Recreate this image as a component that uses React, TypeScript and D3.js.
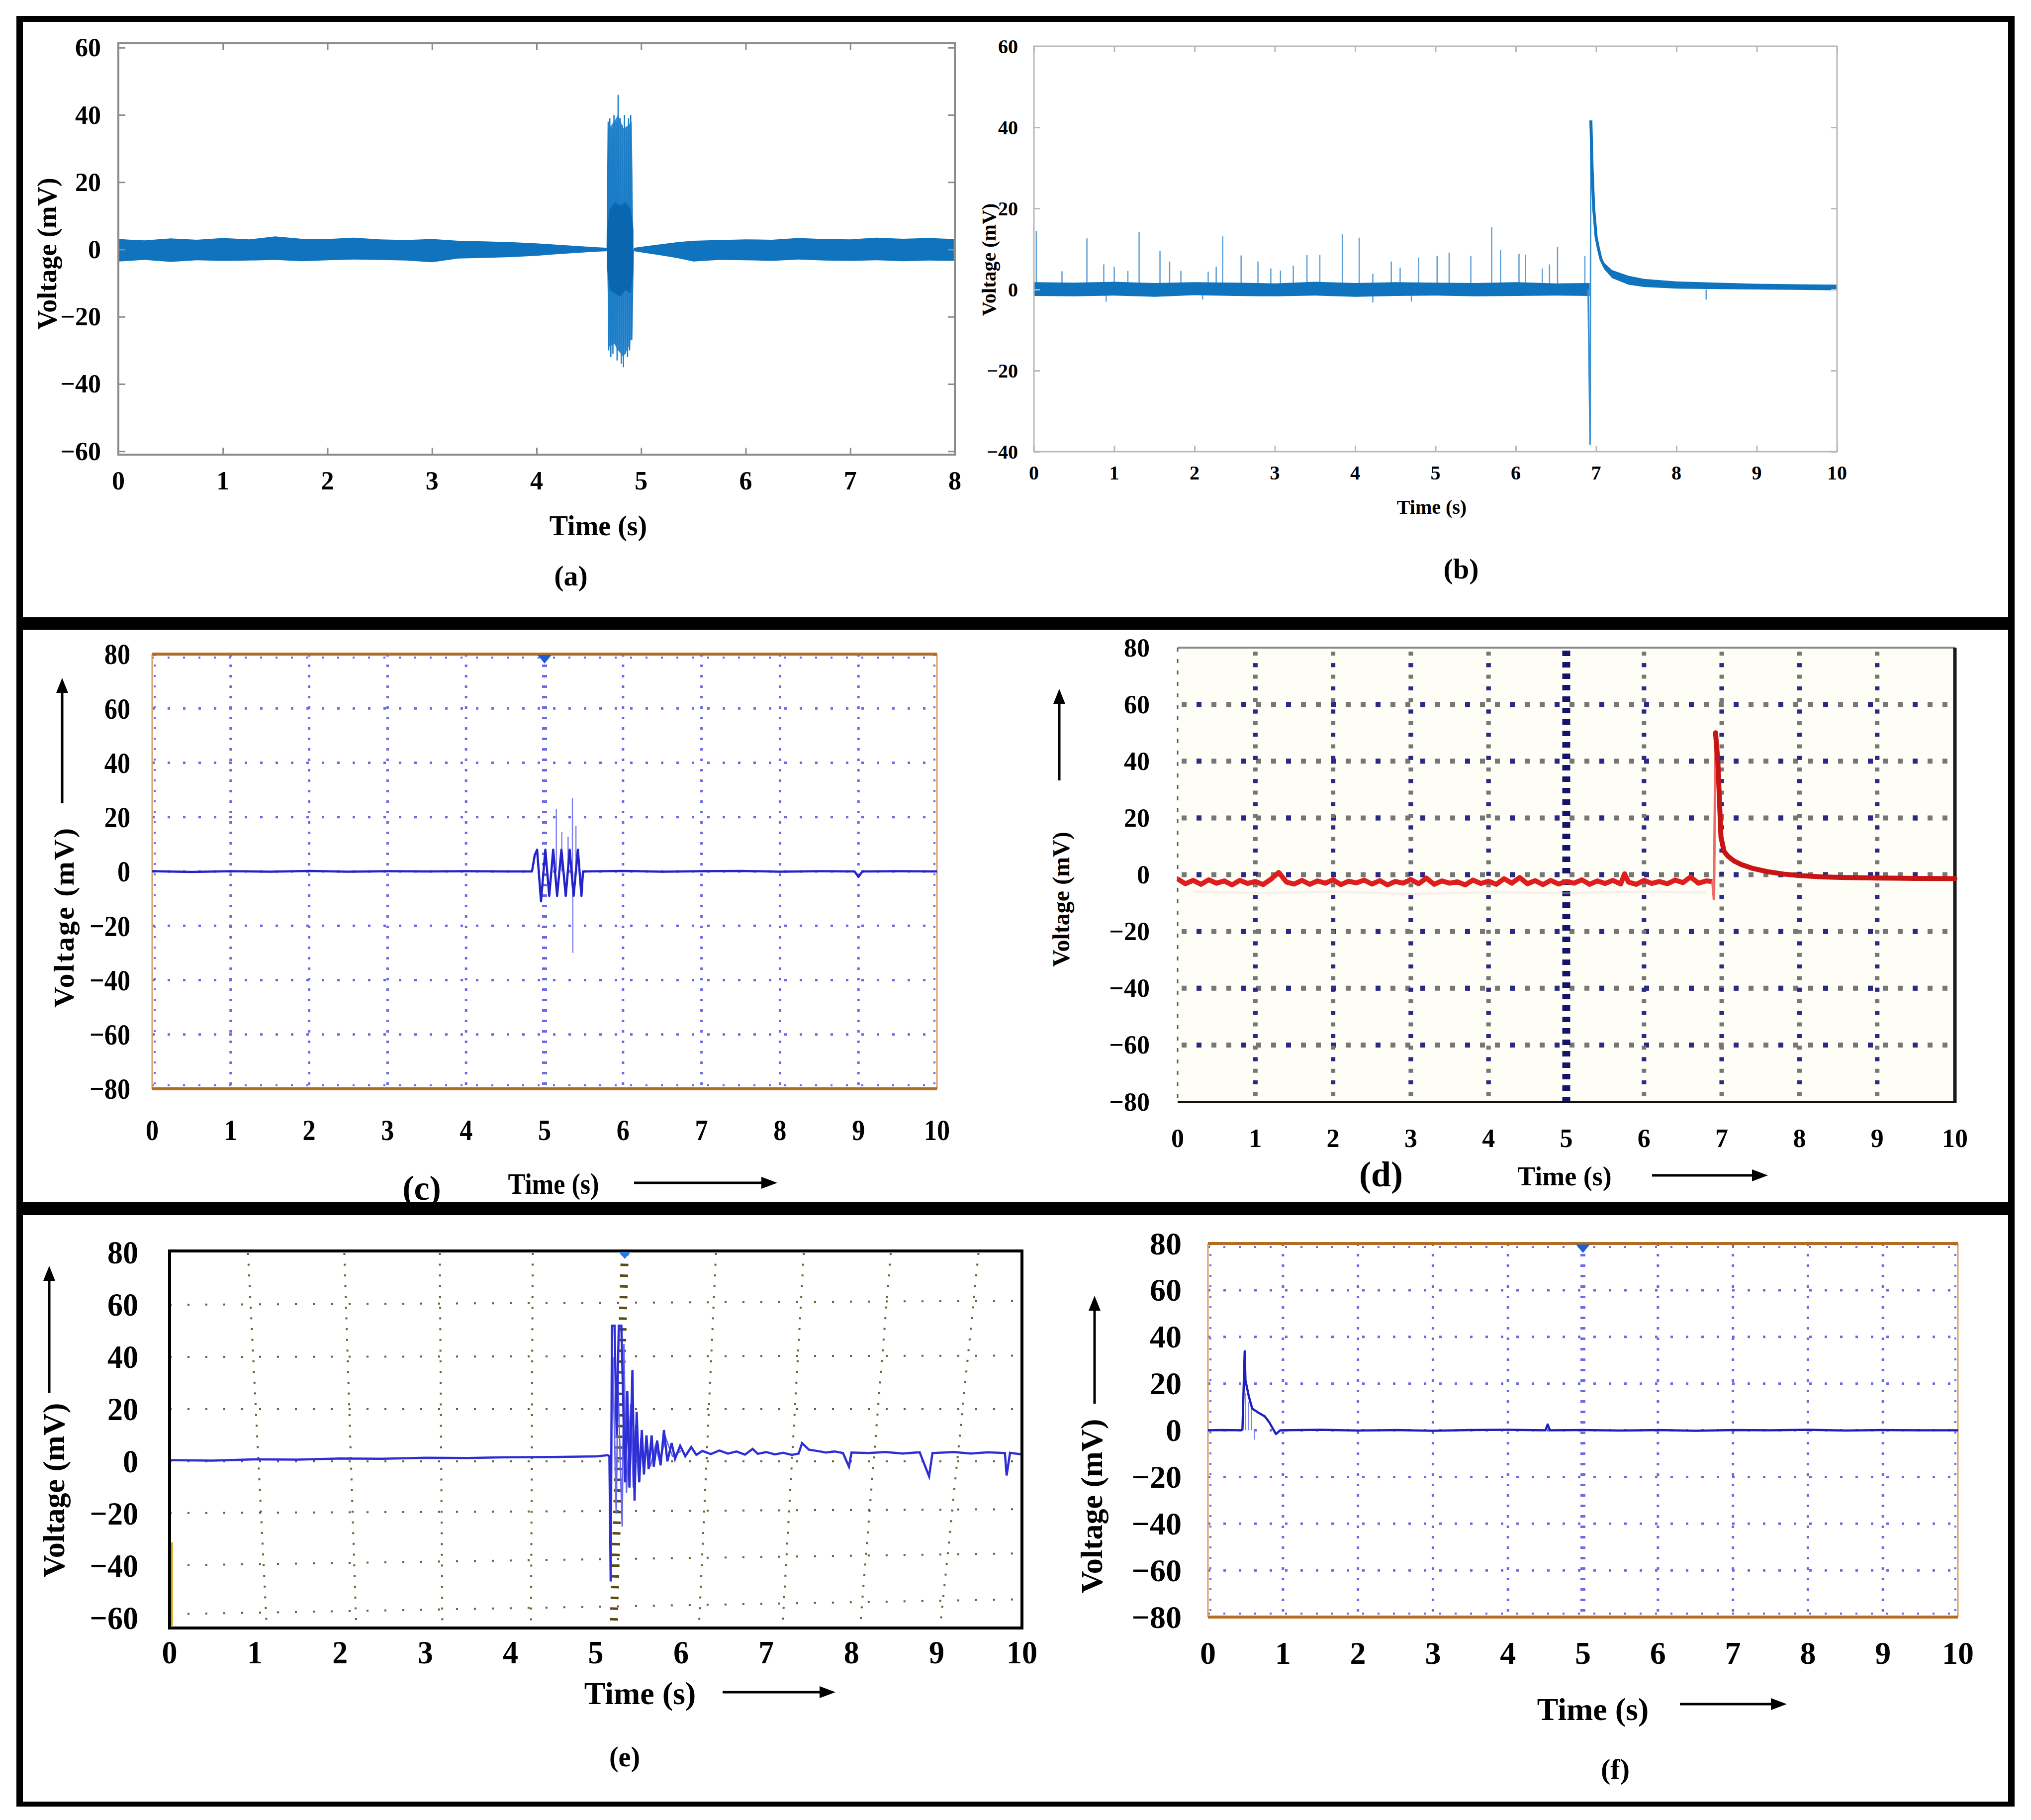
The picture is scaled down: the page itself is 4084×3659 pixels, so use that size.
import React, { useEffect, useRef } from 'react';
import * as d3 from 'd3';

const FONT = '"Liberation Serif", "Times New Roman", Times, serif';
const W = 4084;
const H = 3659;

// ---------- (a) ----------
const aTimeTicks = [0, 1, 2, 3, 4, 5, 6, 7, 8];
const aVoltTicks = [-60, -40, -20, 0, 20, 40, 60];
const aNoiseT = [0, 0.25, 0.5, 0.75, 1, 1.25, 1.5, 1.75, 2, 2.25, 2.5, 2.75, 3, 3.25, 3.5, 3.75, 4, 4.2, 4.4, 4.55, 4.68];
const aNoiseHi = [3.1, 2.7, 3.3, 2.9, 3.4, 3.0, 3.9, 3.2, 3.1, 3.5, 3.0, 2.8, 3.1, 2.6, 2.4, 2.2, 1.8, 1.4, 1.0, 0.7, 0.5];
const aNoiseLo = [-3.6, -3.1, -3.7, -3.2, -3.4, -3.3, -3.1, -3.5, -3.2, -3.0, -3.1, -3.3, -3.8, -2.7, -2.5, -2.3, -1.9, -1.4, -1.0, -0.7, -0.5];
const aTailT = [4.93, 5.05, 5.2, 5.35, 5.5, 5.75, 6, 6.25, 6.5, 6.75, 7, 7.25, 7.5, 7.75, 7.99];
const aTailHi = [0.5, 1.0, 1.6, 2.2, 2.6, 2.8, 3.0, 2.9, 3.4, 3.1, 3.0, 3.5, 3.2, 3.4, 3.1];
const aTailLo = [-0.5, -1.1, -1.8, -2.6, -3.6, -3.1, -3.2, -3.4, -3.0, -3.3, -3.4, -3.2, -3.5, -3.3, -3.4];
const aBurstT = [4.675, 4.685, 4.69, 4.7, 4.71, 4.72, 4.73, 4.74, 4.75, 4.76, 4.77, 4.78, 4.79, 4.8, 4.81, 4.82, 4.83, 4.84, 4.85, 4.86, 4.87, 4.88, 4.89, 4.9, 4.91, 4.925];
const aBurstV = [0, 38, -30, 39, -32, 36, -31, 40, -28, 38, -33, 46, -30, 39, -34, 37, -35, 40, -31, 36, -32, 39, -30, 40, -27, 0];
const aShellT = [4.675, 4.69, 4.74, 4.78, 4.83, 4.88, 4.91, 4.925];
const aShellHi = [5, 36, 38, 40, 36, 37, 38, 5];
const aShellLo = [-5, -29, -28, -30, -32, -29, -26, -5];
const aCoreT = [4.675, 4.7, 4.75, 4.8, 4.85, 4.9, 4.925];
const aCoreHi = [6, 12, 14, 13, 14, 12, 6];
const aCoreLo = [-6, -12, -13, -14, -12, -13, -6];

// ---------- (b) ----------
const bTimeTicks = [0, 1, 2, 3, 4, 5, 6, 7, 8, 9, 10];
const bVoltTicks = [-40, -20, 0, 20, 40, 60];
const bNoiseT = [0, 0.5, 1, 1.5, 2, 2.5, 3, 3.5, 4, 4.5, 5, 5.5, 6, 6.5, 6.92];
const bNoiseHi = [1.8, 1.7, 1.9, 1.6, 1.8, 1.7, 1.5, 1.9, 1.6, 1.8, 1.7, 1.6, 1.8, 1.5, 1.6];
const bNoiseLo = [-1.6, -1.7, -1.5, -1.8, -1.4, -1.6, -1.7, -1.5, -1.8, -1.6, -1.5, -1.7, -1.6, -1.5, -1.6];
const bPeakT = [0.03, 0.35, 0.66, 0.87, 1.0, 1.17, 1.31, 1.57, 1.69, 1.83, 2.17, 2.27, 2.35, 2.58, 2.79, 2.95, 3.07, 3.23, 3.4, 3.56, 3.84, 4.05, 4.22, 4.45, 4.56, 4.79, 5.02, 5.17, 5.44, 5.7, 5.81, 6.04, 6.12, 6.33, 6.42, 6.52, 6.86];
const bPeakV = [14.4, 4.5, 12.6, 6.2, 5.6, 4.6, 14.2, 9.5, 6.9, 4.6, 4.4, 5.6, 13.1, 8.4, 6.9, 5.2, 4.7, 5.9, 8.5, 8.5, 13.6, 12.8, 3.9, 6.9, 5.4, 7.9, 8.3, 9.1, 8.3, 15.4, 9.8, 8.8, 8.6, 5.2, 6.2, 10.5, 8.3];
const bDipT = [0.9, 2.1, 4.22, 4.7, 8.37];
const bDipV = [-3, -2.5, -3.2, -3, -2.5];
const bPulseT = [6.9, 6.925, 6.935];
const bPulseV = [0, -38.3, 41.7];
const bDecayT = [6.935, 6.95, 6.97, 7.0, 7.03, 7.06, 7.1, 7.15, 7.2, 7.3, 7.4, 7.5, 7.6, 7.8, 8, 8.5, 9, 9.5, 10];
const bDecayV = [41.7, 30, 20, 13, 10, 7.5, 5.8, 4.6, 3.8, 2.9, 2.3, 1.9, 1.6, 1.3, 1.1, 0.9, 0.7, 0.6, 0.5];
const bTailT = [7.06, 7.1, 7.2, 7.4, 7.6, 8, 8.5, 9, 9.5, 10];
const bTailHi = [7.5, 6.6, 4.8, 3.4, 2.6, 2.0, 1.7, 1.4, 1.3, 1.2];
const bTailLo = [7.5, 5.0, 2.8, 1.2, 0.6, 0.2, 0.1, 0.0, -0.1, -0.2];

// ---------- scope panels (c), (d), (f) ----------
const scopeTimeTicks = [0, 1, 2, 3, 4, 5, 6, 7, 8, 9, 10];
const scopeVoltTicks = [-80, -60, -40, -20, 0, 20, 40, 60, 80];

// (c)
const cTime = [0, 0.5, 1, 1.5, 2, 2.5, 3, 3.5, 4, 4.5, 4.84, 4.875, 4.905, 4.955, 5.01, 5.06, 5.11, 5.16, 5.215, 5.27, 5.32, 5.37, 5.425, 5.47, 5.49, 6, 6.5, 7, 7.5, 8, 8.5, 8.95, 9.0, 9.05, 9.5, 10];
const cVolt = [0.1, -0.2, 0.1, -0.1, 0.2, -0.1, 0.1, 0, 0.1, 0, 0, 6, 8, -11, 8, -9, 8, -9, 8, -9, 8, -9, 8, -9, 0, 0.2, -0.1, 0.1, 0.2, -0.1, 0.1, 0, -2, 0, 0.1, 0];
const cSpikeT = [5.15, 5.22, 5.3, 5.355, 5.36, 5.4];
const cSpikeV = [23, 14.6, 12.8, 27, -30, 16.7];
const cTrigger = [5];

// (d)
const dTime = [0, 0.1, 0.2, 0.3, 0.4, 0.5, 0.6, 0.7, 0.8, 0.9, 1.0, 1.1, 1.2, 1.3, 1.4, 1.5, 1.6, 1.7, 1.8, 1.9, 2.0, 2.1, 2.2, 2.3, 2.4, 2.5, 2.6, 2.7, 2.8, 2.9, 3.0, 3.1, 3.2, 3.3, 3.4, 3.5, 3.6, 3.7, 3.8, 3.9, 4.0, 4.1, 4.2, 4.3, 4.4, 4.5, 4.6, 4.7, 4.8, 4.9, 5.0, 5.1, 5.2, 5.3, 5.4, 5.5, 5.6, 5.7, 5.75, 5.8, 5.9, 6.0, 6.1, 6.2, 6.3, 6.4, 6.5, 6.6, 6.7, 6.8, 6.88];
const dVolt = [-1.5, -3.2, -2.0, -3.4, -1.8, -3.0, -2.2, -3.6, -2.0, -3.1, -2.4, -3.5, -1.6, 0.8, -2.6, -3.3, -2.0, -3.4, -2.2, -3.0, -1.8, -3.5, -2.3, -2.9, -1.9, -3.3, -2.1, -3.6, -2.4, -3.0, -1.7, -3.2, -1.2, -3.4, -2.2, -3.0, -2.5, -3.6, -1.9, -3.1, -2.3, -3.4, -1.4, -3.0, -1.0, -3.2, -2.1, -3.5, -2.0, -3.3, -2.4, -3.0, -1.8, -3.4, -2.2, -3.1, -2.0, -3.3, 0.3, -2.6, -3.4, -2.0, -3.1, -2.4, -3.2, -1.9, -2.8, -0.8, -3.0, -2.2, -2.4];
const dPulseT = [6.88, 6.9, 6.92];
const dPulseV = [-2.4, -9, 50];
const dDecayT = [6.92, 6.95, 6.99, 7.03, 7.08, 7.16, 7.25, 7.4, 7.6, 7.8, 8.0, 8.3, 8.6, 9.0, 9.5, 10];
const dDecayV = [50, 40, 13.3, 8.2, 6.5, 4.8, 3.6, 2.2, 1.0, 0.2, -0.3, -0.8, -1.0, -1.2, -1.3, -1.4];
const dGhostT = [0.2, 1, 2, 3, 4, 5, 6, 6.8];
const dGhostV = [-6, -6.5, -6, -6.8, -6.2, -6.5, -6, -6.3];

// (e)
const eVoltTicks = [-60, -40, -20, 0, 20, 40, 60, 80];
const eTime = [0, 0.5, 1, 1.5, 2, 2.5, 3, 3.5, 4, 4.5, 5, 5.14,
  5.16, 5.175, 5.19, 5.22, 5.245, 5.27, 5.3, 5.345, 5.37, 5.395, 5.43, 5.455, 5.48, 5.51, 5.54, 5.565, 5.595, 5.62, 5.655, 5.68, 5.72, 5.76, 5.8, 5.84, 5.89, 5.93, 5.99, 6.05, 6.12, 6.18,
  6.25, 6.35, 6.45, 6.55, 6.65, 6.75, 6.84, 6.9, 7.0, 7.1, 7.2, 7.3, 7.38, 7.42, 7.5, 7.6, 7.7, 7.8, 7.9, 7.97, 8.0, 8.2, 8.4, 8.6, 8.8, 8.91, 8.95, 9.2, 9.4, 9.6, 9.8, 9.82, 9.86, 10];
const eVolt = [0.5, 0.3, 0.8, 0.7, 1.1, 1.0, 1.4, 1.3, 1.6, 1.7, 1.9, 2.4,
  2, -46, 52, 52, 10, 52, 52, -8, 27, -10, 35, -15, 19, -8, 12, -5, 10, -3, 10, -2, 8, -1.5, 12, 0, 7, 1, 6, 2, 5.5, 2.5,
  4, 2.8, 4.2, 3, 3.8, 2.6, 4.8, 2.9, 3.6, 2.7, 3.3, 2.5, 3, 7, 4.5, 4, 3.4, 3.8, 3.2, -2, 3.4, 3.2, 3.6, 3, 3.5, -5.7, 3.2, 3.6, 3.0, 3.5, 3.2, -5.4, 3.3, 2.7];
const eEchoT = [5.2, 5.24, 5.26, 5.31, 5.33, 5.36, 5.41, 5.44, 5.47, 5.5, 5.53, 5.56, 5.6, 5.64, 5.7, 5.75, 5.82, 5.9, 6.0];
const eEchoV = [40, -20, 30, -25, 45, -12, 22, -10, 14, -6, 9, -4, 8, -2, 6, 0, 9, 2, 4];
const eYellowT = [0.02, 0.02];
const eYellowV = [-31, -63];
const eGridTopT = [0.92, 2.05, 3.17, 4.26, 5.34, 6.41, 7.44, 8.46, 9.49];
const eGridBotT = [1.14, 2.19, 3.2, 4.24, 5.21, 6.21, 7.19, 8.1, 9.04];
const eGridLeftV = [-58.5, -39.8, -19.8, 0, 20, 40, 60];
const eGridRightV = [-52.8, -35.2, -18.3, 0, 20, 40.5, 61.5];
const eTrigger = [5.34];

// (f)
const fTime = [0, 0.2, 0.44, 0.46, 0.49, 0.5, 0.545, 0.59, 0.67, 0.76, 0.82, 0.906, 0.965, 1.5, 2, 2.5, 3, 3.5, 4, 4.5, 4.53, 4.56, 5, 5.5, 6, 6.5, 7, 7.5, 8, 8.5, 9, 9.5, 10];
const fVolt = [0, 0.1, 0, 0.3, 33.8, 21.4, 14.5, 9.3, 7.6, 5.9, 3.3, -1.6, 0, 0.2, -0.1, 0.1, -0.2, 0.1, 0.2, 0, 2.5, 0, 0.1, -0.1, 0.1, -0.2, 0.1, 0, 0.2, -0.1, 0.1, 0, 0];
const fSpikeT = [0.5, 0.54, 0.58, 0.62];
const fSpikeV = [16, 12, 9, -4];
const fTrigger = [5];

const fmt = d3.format('d');

function txt(g: any, s: string, x: number, y: number, size: number, o: any = {}) {
  let tr = `translate(${x},${y})`;
  if (o.rotate) tr += ` rotate(${o.rotate})`;
  if (o.sx && o.sx !== 1) tr += ` scale(${o.sx},1)`;
  return g.append('text')
    .attr('transform', tr)
    .attr('text-anchor', o.anchor || 'middle')
    .attr('dominant-baseline', 'central')
    .attr('fill', '#000')
    .style('font-family', FONT)
    .style('font-weight', o.weight || 'bold')
    .style('font-size', `${size}px`)
    .style('letter-spacing', o.ls ? `${o.ls}px` : null)
    .text(s);
}

function arrowUp(g: any, x: number, yStart: number, tip: number) {
  const head = 30, half = 12;
  g.append('line').attr('x1', x).attr('x2', x).attr('y1', yStart).attr('y2', tip + head - 4)
    .attr('stroke', '#000').attr('stroke-width', 5);
  g.append('path').attr('d', `M${x},${tip}L${x - half},${tip + head}L${x + half},${tip + head}Z`).attr('fill', '#000');
}

function arrowRight(g: any, xStart: number, tip: number, y: number) {
  const head = 32, half = 12;
  g.append('line').attr('x1', xStart).attr('x2', tip - head + 4).attr('y1', y).attr('y2', y)
    .attr('stroke', '#000').attr('stroke-width', 5);
  g.append('path').attr('d', `M${tip},${y}L${tip - head},${y - half}L${tip - head},${y + half}Z`).attr('fill', '#000');
}

function innerTicks(g: any, x: any, y: any, xt: number[], yt: number[], len: number, color: string) {
  const [x0, x1] = x.range();
  const [y0, y1] = y.range();
  const axes: any[] = [
    [d3.axisBottom(x).tickValues(xt), `translate(0,${y0})`],
    [d3.axisTop(x).tickValues(xt), `translate(0,${y1})`],
    [d3.axisLeft(y).tickValues(yt), `translate(${x0},0)`],
    [d3.axisRight(y).tickValues(yt), `translate(${x1},0)`],
  ];
  axes.forEach(([ax, tr]) => {
    const a = g.append('g').attr('transform', tr).call(ax.tickSize(-len).tickFormat(() => ''));
    a.select('.domain').remove();
    a.selectAll('line').attr('stroke', color).attr('stroke-width', 3);
  });
}

const seriesLine = (x: any, y: any, T: number[]) =>
  d3.line<number>().x((_, i) => x(T[i])).y(d => y(d));

const band = (x: any, y: any, T: number[], hi: number[], lo: number[]) =>
  d3.area<number>().x((_, i) => x(T[i])).y0((_, i) => y(lo[i])).y1((_, i) => y(hi[i]))(T);

function drawA(svg: any) {
  const g = svg.append('g');
  const x = d3.scaleLinear().domain([0, 8]).range([238, 1920]);
  const y = d3.scaleLinear().domain([-61, 61.3]).range([914, 87]);
  const blue = '#0f74bd';
  const [x0, x1] = x.range();
  const [y0, y1] = y.range();
  g.append('path').attr('d', band(x, y, aNoiseT, aNoiseHi, aNoiseLo)).attr('fill', blue);
  g.append('path').attr('d', band(x, y, aTailT, aTailHi, aTailLo)).attr('fill', blue);
  g.append('path').attr('d', band(x, y, aShellT, aShellHi, aShellLo)).attr('fill', '#3a8fd2');
  g.append('path').attr('d', seriesLine(x, y, aBurstT)(aBurstV))
    .attr('fill', 'none').attr('stroke', '#1b7cc6').attr('stroke-width', 2.5).attr('stroke-linejoin', 'miter');
  g.append('path').attr('d', band(x, y, aCoreT, aCoreHi, aCoreLo)).attr('fill', '#0a66ae');
  innerTicks(g, x, y, aTimeTicks, aVoltTicks, 14, '#8c8c8c');
  g.append('rect').attr('x', x0).attr('y', y1).attr('width', x1 - x0).attr('height', y0 - y1)
    .attr('fill', 'none').attr('stroke', '#8c8c8c').attr('stroke-width', 4);
  aTimeTicks.forEach(v => txt(g, fmt(v), x(v), 966, 52));
  aVoltTicks.forEach(v => txt(g, fmt(v), 203, y(v), 52, { anchor: 'end' }));
  txt(g, 'Time (s)', 1203, 1057, 56);
  txt(g, '(a)', 1148, 1157, 58);
  txt(g, 'Voltage (mV)', 95, 510, 54, { rotate: -90 });
}

function drawB(svg: any) {
  const g = svg.append('g');
  const x = d3.scaleLinear().domain([0, 10]).range([2079, 3694]);
  const y = d3.scaleLinear().domain([-40, 60]).range([908, 93]);
  const blue = '#0f74bd';
  const [x0, x1] = x.range();
  const [y0, y1] = y.range();
  g.selectAll('.bpk').data(bPeakT).join('line').attr('class', 'bpk')
    .attr('x1', d => x(d)).attr('x2', d => x(d)).attr('y1', y(0)).attr('y2', (_, i) => y(bPeakV[i]))
    .attr('stroke', '#5d9fd8').attr('stroke-width', 2.5);
  g.selectAll('.bdp').data(bDipT).join('line').attr('class', 'bdp')
    .attr('x1', d => x(d)).attr('x2', d => x(d)).attr('y1', y(0)).attr('y2', (_, i) => y(bDipV[i]))
    .attr('stroke', '#5d9fd8').attr('stroke-width', 2.5);
  g.append('path').attr('d', band(x, y, bNoiseT, bNoiseHi, bNoiseLo)).attr('fill', blue);
  g.append('path').attr('d', seriesLine(x, y, bPulseT)(bPulseV))
    .attr('fill', 'none').attr('stroke', '#3d8fd4').attr('stroke-width', 3);
  g.append('path').attr('d', band(x, y, bTailT, bTailHi, bTailLo)).attr('fill', blue);
  g.append('path').attr('d', seriesLine(x, y, bDecayT)(bDecayV))
    .attr('fill', 'none').attr('stroke', blue).attr('stroke-width', 6).attr('stroke-linejoin', 'round');
  innerTicks(g, x, y, bTimeTicks, bVoltTicks, 12, '#b8b8b8');
  g.append('rect').attr('x', x0).attr('y', y1).attr('width', x1 - x0).attr('height', y0 - y1)
    .attr('fill', 'none').attr('stroke', '#b8b8b8').attr('stroke-width', 3);
  bTimeTicks.forEach(v => txt(g, fmt(v), x(v), 950, 40));
  bVoltTicks.forEach(v => txt(g, fmt(v), 2047, y(v), 40, { anchor: 'end' }));
  txt(g, 'Time (s)', 2879, 1019, 40);
  txt(g, '(b)', 2938, 1143, 58);
  txt(g, 'Voltage (mV)', 1988, 522, 40, { rotate: -90 });
}

function drawScope(svg: any, o: any) {
  const g = svg.append('g');
  const x = d3.scaleLinear().domain([0, 10]).range(o.xr);
  const y = d3.scaleLinear().domain([-80, 80]).range(o.yr);
  const [x0, x1] = o.xr;
  const [y0, y1] = o.yr;
  const gridCol = '#6a6ae6';
  g.selectAll('.vg').data(scopeTimeTicks.filter(t => t > 0 && t < 10)).join('line').attr('class', 'vg')
    .attr('x1', d => x(d)).attr('x2', d => x(d)).attr('y1', y1).attr('y2', y0)
    .attr('stroke', gridCol).attr('stroke-width', d => (d === 5 ? 10 : 5)).attr('stroke-dasharray', '5 16');
  g.selectAll('.hg').data(scopeVoltTicks.filter(v => v > -80 && v < 80)).join('line').attr('class', 'hg')
    .attr('x1', x0).attr('x2', x1).attr('y1', d => y(d)).attr('y2', d => y(d))
    .attr('stroke', gridCol).attr('stroke-width', 5).attr('stroke-dasharray', '5 26');
  // minor marks just inside the frame
  [x0 + 5, x1 - 5].forEach(xx => g.append('line').attr('x1', xx).attr('x2', xx).attr('y1', y1).attr('y2', y0)
    .attr('stroke', gridCol).attr('stroke-width', 4).attr('stroke-dasharray', '4 17'));
  [y1 + 7, y0 - 7].forEach(yy => g.append('line').attr('x1', x0).attr('x2', x1).attr('y1', yy).attr('y2', yy)
    .attr('stroke', gridCol).attr('stroke-width', 4).attr('stroke-dasharray', '4 27'));
  // frame
  [x0, x1].forEach(xx => g.append('line').attr('x1', xx).attr('x2', xx).attr('y1', y1).attr('y2', y0)
    .attr('stroke', '#d9a069').attr('stroke-width', 3));
  [y1, y0].forEach(yy => g.append('line').attr('x1', x0).attr('x2', x1).attr('y1', yy).attr('y2', yy)
    .attr('stroke', '#b26d25').attr('stroke-width', 6));
  // trace
  if (o.spikeT) {
    g.selectAll('.sp').data(o.spikeT).join('line').attr('class', 'sp')
      .attr('x1', (d: number) => x(d)).attr('x2', (d: number) => x(d)).attr('y1', y(0)).attr('y2', (_: any, i: number) => y(o.spikeV[i]))
      .attr('stroke', '#8080f0').attr('stroke-width', 2.5);
  }
  g.append('path').attr('d', seriesLine(x, y, o.T)(o.V))
    .attr('fill', 'none').attr('stroke', o.color).attr('stroke-width', 4.5).attr('stroke-linejoin', 'round');
  // trigger marker
  o.trigger.forEach((t: number) => {
    const tx = x(t);
    g.append('path').attr('d', `M${tx - 14},${y1 + 2}L${tx + 14},${y1 + 2}L${tx},${y1 + 19}Z`).attr('fill', '#1f5fd6');
  });
  // labels
  scopeTimeTicks.forEach(v => txt(g, fmt(v), x(v), o.xLabY, o.fs, { sx: o.sx }));
  scopeVoltTicks.forEach(v => txt(g, fmt(v), o.yLabX, y(v), o.fs, { anchor: 'end', sx: o.sx }));
  txt(g, 'Time (s)', o.time[0], o.time[1], o.time[2], { sx: o.sx });
  txt(g, o.tag[3], o.tag[0], o.tag[1], o.tag[2]);
  txt(g, 'Voltage (mV)', o.volt[0], o.volt[1], o.volt[2], { rotate: -90, ls: o.volt[3] });
  arrowUp(g, o.vArrow[0], o.vArrow[1], o.vArrow[2]);
  arrowRight(g, o.hArrow[0], o.hArrow[1], o.hArrow[2]);
}

function drawD(svg: any) {
  const g = svg.append('g');
  const x = d3.scaleLinear().domain([0, 10]).range([2368, 3931]);
  const y = d3.scaleLinear().domain([-80, 80]).range([2215, 1302]);
  const [x0, x1] = x.range();
  const [y0, y1] = y.range();
  g.append('rect').attr('x', x0).attr('y', y1).attr('width', x1 - x0).attr('height', y0 - y1).attr('fill', '#fffef6');
  const grey = '#767676';
  const navy = '#2a2a86';
  const hv = scopeVoltTicks.filter(v => v > -80 && v < 80);
  const vt = scopeTimeTicks.filter(t => t > 0 && t < 10);
  [[grey, '10 20', 0], [navy, '10 80', 60]].forEach(([c, da, off]) => {
    g.selectAll(null).data(hv).join('line')
      .attr('x1', x0 + 8).attr('x2', x1).attr('y1', d => y(d)).attr('y2', d => y(d))
      .attr('stroke', c).attr('stroke-width', 10).attr('stroke-dasharray', da).attr('stroke-dashoffset', off);
  });
  [[grey, '8 15.3', 0], [navy, '8 38.6', 23.3]].forEach(([c, da, off]) => {
    g.selectAll(null).data(vt.filter(t => t !== 5)).join('line')
      .attr('x1', d => x(d)).attr('x2', d => x(d)).attr('y1', y1 + 8).attr('y2', y0)
      .attr('stroke', c).attr('stroke-width', 9).attr('stroke-dasharray', da).attr('stroke-dashoffset', off);
  });
  g.selectAll(null).data(vt.filter(t => t === 5)).join('line')
    .attr('x1', d => x(d)).attr('x2', d => x(d)).attr('y1', y1 + 6).attr('y2', y0)
    .attr('stroke', '#14146a').attr('stroke-width', 16).attr('stroke-dasharray', '11 12');
  // frame
  g.append('line').attr('x1', x0).attr('x2', x1).attr('y1', y1).attr('y2', y1).attr('stroke', '#8c8c8c').attr('stroke-width', 4);
  g.append('line').attr('x1', x0).attr('x2', x0).attr('y1', y1).attr('y2', y0).attr('stroke', '#5a5a80').attr('stroke-width', 3).attr('stroke-dasharray', '8 15');
  g.append('line').attr('x1', x1).attr('x2', x1).attr('y1', y1).attr('y2', y0 + 2).attr('stroke', '#1a1a1a').attr('stroke-width', 7);
  g.append('line').attr('x1', x0).attr('x2', x1 + 3).attr('y1', y0).attr('y2', y0).attr('stroke', '#111').attr('stroke-width', 4);
  // trace
  g.append('path').attr('d', seriesLine(x, y, dGhostT)(dGhostV))
    .attr('fill', 'none').attr('stroke', '#eed6d6').attr('stroke-width', 5).attr('opacity', 0.35);
  g.append('path').attr('d', seriesLine(x, y, dTime)(dVolt))
    .attr('fill', 'none').attr('stroke', '#de1d1d').attr('stroke-width', 10).attr('stroke-linejoin', 'round');
  g.append('path').attr('d', seriesLine(x, y, dPulseT)(dPulseV))
    .attr('fill', 'none').attr('stroke', '#ef6a6a').attr('stroke-width', 5);
  g.append('path').attr('d', seriesLine(x, y, dDecayT)(dDecayV))
    .attr('fill', 'none').attr('stroke', '#c81414').attr('stroke-width', 10).attr('stroke-linejoin', 'round').attr('stroke-linecap', 'round');
  // labels
  scopeTimeTicks.forEach(v => txt(g, fmt(v), x(v), 2288, 52));
  scopeVoltTicks.forEach(v => txt(g, fmt(v), 2312, y(v), 52, { anchor: 'end' }));
  txt(g, 'Time (s)', 3146, 2365, 54);
  txt(g, '(d)', 2777, 2361, 72);
  txt(g, 'Voltage (mV)', 2133, 1808, 48, { rotate: -90 });
  arrowUp(g, 2130, 1569, 1385);
  arrowRight(g, 3322, 3555, 2363);
}

function drawE(svg: any) {
  const g = svg.append('g');
  const x = d3.scaleLinear().domain([0, 10]).range([341, 2055]);
  const y = d3.scaleLinear().domain([-63.8, 80.6]).range([3273, 2515]);
  const [x0, x1] = x.range();
  const [y0, y1] = y.range();
  const dot = '#6e6030';
  // tilted photographed grid
  g.selectAll(null).data(eGridTopT).join('line')
    .attr('x1', d => x(d)).attr('y1', y1 + 4).attr('x2', (_, i) => x(eGridBotT[i])).attr('y2', y0)
    .attr('stroke', (_, i) => (i === 4 ? '#5b4a12' : dot))
    .attr('stroke-width', (_, i) => (i === 4 ? 16 : 4))
    .attr('stroke-dasharray', (_, i) => (i === 4 ? '5 16.6' : '4 17.6'));
  g.selectAll(null).data(eGridLeftV).join('line')
    .attr('x1', x0).attr('y1', d => y(d)).attr('x2', x1).attr('y2', (_, i) => y(eGridRightV[i]))
    .attr('stroke', dot).attr('stroke-width', 4).attr('stroke-dasharray', '4 32');
  g.append('path').attr('d', seriesLine(x, y, eYellowT)(eYellowV))
    .attr('fill', 'none').attr('stroke', '#d9a400').attr('stroke-width', 6);
  g.append('path').attr('d', seriesLine(x, y, eEchoT)(eEchoV))
    .attr('fill', 'none').attr('stroke', '#6a6af0').attr('stroke-width', 3);
  g.append('path').attr('d', seriesLine(x, y, eTime)(eVolt))
    .attr('fill', 'none').attr('stroke', '#2e2ed6').attr('stroke-width', 4.5).attr('stroke-linejoin', 'miter');
  g.append('rect').attr('x', x0).attr('y', y1).attr('width', x1 - x0).attr('height', y0 - y1)
    .attr('fill', 'none').attr('stroke', '#000').attr('stroke-width', 6);
  eTrigger.forEach(t => {
    const tx = x(t);
    g.append('path').attr('d', `M${tx - 12},${y1 + 2}L${tx + 12},${y1 + 2}L${tx},${y1 + 16}Z`).attr('fill', '#2a7ae0');
  });
  scopeTimeTicks.forEach(v => txt(g, fmt(v), x(v), 3322, 66, { sx: 0.94 }));
  eVoltTicks.forEach(v => txt(g, fmt(v), 278, y(v), 66, { anchor: 'end', sx: 0.94 }));
  txt(g, 'Time (s)', 1287, 3404, 64);
  txt(g, '(e)', 1256, 3532, 56);
  txt(g, 'Voltage (mV)', 108, 2996, 62, { rotate: -90 });
  arrowUp(g, 99, 2800, 2545);
  arrowRight(g, 1453, 1680, 3402);
}

function drawFrames(svg: any) {
  const g = svg.append('g');
  const left = 33, right = 4051;
  [[32, 44], [1241, 1266], [2417, 2443], [3622, 3632]].forEach(([a, b]) =>
    g.append('rect').attr('x', left).attr('y', a).attr('width', right - left).attr('height', b - a).attr('fill', '#000'));
  g.append('rect').attr('x', left).attr('y', 32).attr('width', 13).attr('height', 3600).attr('fill', '#000');
  g.append('rect').attr('x', right - 13).attr('y', 32).attr('width', 13).attr('height', 3600).attr('fill', '#000');
}

export default function App() {
  const ref = useRef<SVGSVGElement>(null);
  useEffect(() => {
    const svg = d3.select(ref.current);
    svg.selectAll('*').remove();
    svg.append('rect').attr('width', W).attr('height', H).attr('fill', '#fff');
    drawA(svg);
    drawB(svg);
    drawScope(svg, {
      xr: [306, 1884], yr: [2189, 1315], T: cTime, V: cVolt, spikeT: cSpikeT, spikeV: cSpikeV,
      color: '#2424c8', trigger: cTrigger, xLabY: 2272, yLabX: 262, fs: 60, sx: 0.87,
      time: [1113, 2380, 60], tag: [848, 2388, 70, '(c)'], volt: [128, 1844, 58, 3],
      vArrow: [125, 1615, 1363], hArrow: [1275, 1563, 2378],
    });
    drawD(svg);
    drawE(svg);
    drawScope(svg, {
      xr: [2429, 3937], yr: [3251, 2500], T: fTime, V: fVolt, spikeT: fSpikeT, spikeV: fSpikeV,
      color: '#1f1fc0', trigger: fTrigger, xLabY: 3323, yLabX: 2376, fs: 64, sx: 1,
      time: [3203, 3436, 64], tag: [3248, 3556, 58, '(f)'], volt: [2195, 3028, 62, 0],
      vArrow: [2201, 2822, 2605], hArrow: [3378, 3593, 3426],
    });
    drawFrames(svg);
  }, []);
  return (
    <svg ref={ref} width={W} height={H} style={{ position: 'absolute', left: 0, top: 0, background: '#fff' }} />
  );
}
